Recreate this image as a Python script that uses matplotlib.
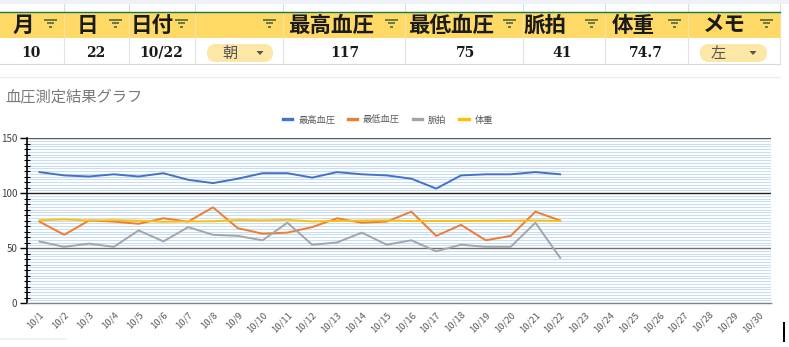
import numpy as np
import matplotlib
matplotlib.use("Agg")
import matplotlib.pyplot as plt
from matplotlib.patches import Rectangle, FancyBboxPatch, Polygon
from matplotlib.ticker import MultipleLocator

plt.rcParams['font.family'] = ['Noto Sans CJK JP', 'DejaVu Sans']

# spreadsheet header / current row
headers = ["月", "日", "日付", "", "最高血圧", "最低血圧", "脈拍", "体重", "メモ"]
row_vals = ["10", "22", "10/22", "朝", "117", "75", "41", "74.7", "左"]

# chart data (10/1 .. 10/22), axis runs to 10/30
dates = ["10/%d" % d for d in range(1, 31)]
high = [119, 116, 115, 117, 115, 118, 112, 109, 113, 118, 118, 114, 119, 117, 116,
        113, 104, 116, 117, 117, 119, 117]
low = [74, 62, 75, 74, 72, 77, 74, 87, 68, 63, 64, 69, 77, 73, 74,
       83, 61, 71, 57, 61, 83, 75]
pulse = [56, 51, 54, 51, 66, 56, 69, 62, 61, 57, 73, 53, 55, 64, 53,
         57, 47, 53, 51, 51, 73, 41]
weight = [75.2, 76.0, 75.0, 75.3, 74.8, 73.8, 74.2, 74.3, 75.4, 75.1, 75.6, 74.2, 74.6,
          75.0, 75.1, 74.5, 74.6, 74.6, 74.7, 74.8, 75.0, 74.7]
series = [("最高血圧", high, "#4472C4"), ("最低血圧", low, "#ED7D31"),
          ("脈拍", pulse, "#A5A5A5"), ("体重", weight, "#FFC000")]

W, H = 789, 347
fig = plt.figure(figsize=(W / 100, H / 100), dpi=100)
fig.patch.set_facecolor("white")

# background axes in pixel coordinates for the sheet part
bg = fig.add_axes([0, 0, 1, 1])
bg.set_xlim(0, W)
bg.set_ylim(H, 0)
bg.axis("off")

cols = [0, 64, 129, 195, 283, 405, 523, 605, 688, 780]
bg.add_patch(Rectangle((0, 0), W, 4, color="#eef1f5", lw=0))
bg.add_patch(Rectangle((0, 12.5), 780, 25.5, color="#ffd966", lw=0))
for c in cols[1:]:
    bg.plot([c, c], [4, 12.5], color="#dadce0", lw=0.8)
    bg.plot([c, c], [12.5, 38], color="#f3e3a8", lw=0.8)
    bg.plot([c, c], [38, 64], color="#e3e3e3", lw=0.8)
bg.plot([0, 780], [12.3, 12.3], color="#1b7a3a", lw=1.0)
bg.plot([0, 780], [64, 64], color="#d9d9d9", lw=0.8)
bg.plot([0, 780], [77, 77], color="#e6ece6", lw=0.8)

head_x = [13, 77, 131, 0, 288, 408, 523, 612, 703]
for i, h in enumerate(headers):
    if h:
        bg.text(head_x[i], 25.5, h, fontsize=15.5, fontweight="bold",
                color="#1a1a1a", va="center", ha="left")
    r = cols[i + 1]
    for k, (yy, w) in enumerate([(20, 13), (23.4, 7), (26.8, 2.5)]):
        cx = r - 13.5
        bg.plot([cx - w / 2, cx + w / 2], [yy, yy], color="#4f6a3c", lw=1.2,
                solid_capstyle="butt")

val_x = [31, 96, 161, None, 345, 466, 562, 646, None]
for i, v in enumerate(row_vals):
    if val_x[i] is not None:
        bg.text(val_x[i], 52.5, v, fontsize=10, family="DejaVu Serif",
                fontweight="bold", color="#1a1a1a", ha="center", va="center")

# dropdown pills
for (x0, x1, tx, trx), v in zip([(207, 273, 230, 260), (700, 767, 718, 753)],
                                [row_vals[3], row_vals[8]]):
    bg.add_patch(FancyBboxPatch((x0, 44), x1 - x0, 18,
                                boxstyle="round,pad=0,rounding_size=9",
                                fc="#fde7a6", ec="none"))
    bg.text(tx, 53, v, fontsize=11, color="#555555", ha="center", va="center")
    bg.add_patch(Polygon([[trx - 3.5, 51], [trx + 3.5, 51], [trx, 55]],
                         closed=True, color="#555555", lw=0))

bg.text(5, 97, "血圧測定結果グラフ", fontsize=11, color="#7a7a7a", va="center")
bg.add_patch(Rectangle((783, 322), 2.2, 20, color="black", lw=0))
bg.add_patch(Rectangle((0, 338), 67, 2, color="#f0f0f0", lw=0))

# chart
ax = fig.add_axes([27 / W, (H - 303) / H, 744 / W, 165 / H])
ax.set_facecolor("none")
x = np.arange(len(dates))
for name, vals, col in series:
    ax.plot(x[:len(vals)], vals, color=col, lw=1.4, label=name, zorder=3)

ax.set_xlim(-0.5, len(dates) - 0.5)
ax.set_ylim(0, 150)
ax.yaxis.set_major_locator(MultipleLocator(50))
ax.yaxis.set_minor_locator(MultipleLocator(5))
for v in np.arange(2.5, 150, 2.5):
    if v % 50:
        ax.axhline(v, color="#c9def3", lw=0.8, zorder=1)
ax.axhline(100, color="#222222", lw=1.0, zorder=2)
ax.axhline(50, color="#707070", lw=1.0, zorder=2)
ax.axhline(150, color="#595959", lw=1.0, zorder=2)

for s in ["top", "right"]:
    ax.spines[s].set_visible(False)
ax.spines["left"].set_color("black")
ax.spines["left"].set_linewidth(1.2)
ax.spines["bottom"].set_color("#808080")
ax.spines["bottom"].set_linewidth(1.0)

ax.set_xticks(x)
ax.set_xticklabels(dates, rotation=45, ha="right", rotation_mode="anchor",
                   fontsize=6.8, color="#595959")
ax.tick_params(axis="x", length=0, pad=5)
ax.tick_params(axis="y", which="major", length=5, width=1, color="black",
               labelsize=7, labelcolor="#404040", pad=2)
ax.tick_params(axis="y", which="minor", length=5, width=0.8, color="black",
               direction="inout")

fig.legend(loc="center", bbox_to_anchor=(388 / W, 1 - 120 / H), ncol=4,
           frameon=False, fontsize=6.7, handlelength=1.0, handletextpad=0.6,
           columnspacing=1.4, labelcolor="#595959")
for ln in fig.legends[0].get_lines():
    ln.set_linewidth(2.4)

fig.savefig("out.png", dpi=100, facecolor="white")
